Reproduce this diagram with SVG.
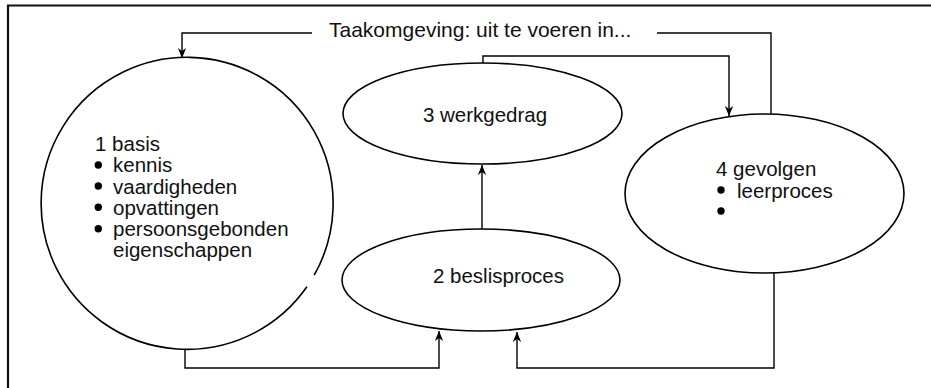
<svg xmlns="http://www.w3.org/2000/svg" width="931" height="388" viewBox="0 0 931 388">
<style>
.shape{fill:none;stroke:#000;stroke-width:1.6}
.conn{fill:none;stroke:#000;stroke-width:1.4}
.t{font-family:"Liberation Sans",Arial,sans-serif;font-size:20.5px;fill:#111}
.title{font-size:21px}
.dot{fill:#000}
</style>
<defs>
<marker id="arr" markerUnits="userSpaceOnUse" markerWidth="14" markerHeight="12" viewBox="-11 -6 12 12" refX="0" refY="0" orient="auto">
<path d="M0,0 L-10,-4.2 L-7,0 L-10,4.2 Z" fill="#000"/>
</marker>
</defs>
<rect x="0" y="0" width="931" height="388" fill="#fff"/>
<g id="frame">
<path d="M8,388 V5.5 H931" fill="none" stroke="#111" stroke-width="2.2"/>
</g>
<g id="connectors">
<path class="conn" d="M312,33 H182 V58" marker-end="url(#arr)"/>
<path class="conn" d="M657,33 H771 V114"/>
<path class="conn" d="M483,63 V56 H729 V116" marker-end="url(#arr)"/>
<path class="conn" d="M482,229 V165" marker-end="url(#arr)"/>
<path class="conn" d="M185,349 V368 H439 V331" marker-end="url(#arr)"/>
<path class="conn" d="M774,273 V368 H517 V332" marker-end="url(#arr)"/>
</g>
<g id="title">
<text class="t title" x="329" y="37">Taakomgeving: uit te voeren in...</text>
</g>
<g id="node1">
<path class="shape" d="M306.9,286.8 A146,146 0 1 1 314.2,275.2"/>
<text class="t" x="95" y="151">1 basis</text>
<circle class="dot" cx="98.3" cy="165" r="3.7"/>
<text class="t" x="113" y="172">kennis</text>
<circle class="dot" cx="98.3" cy="186" r="3.7"/>
<text class="t" x="113" y="193.5">vaardigheden</text>
<circle class="dot" cx="98.3" cy="207.3" r="3.7"/>
<text class="t" x="113" y="214.5">opvattingen</text>
<circle class="dot" cx="98.3" cy="228.7" r="3.7"/>
<text class="t" x="113" y="236">persoonsgebonden</text>
<text class="t" x="113" y="257">eigenschappen</text>
</g>
<g id="node2">
<ellipse class="shape" cx="481" cy="280" rx="139" ry="51"/>
<text class="t" x="498.5" y="283" text-anchor="middle">2 beslisproces</text>
</g>
<g id="node3">
<ellipse class="shape" cx="482.5" cy="113.5" rx="139.5" ry="50.5"/>
<text class="t" x="485" y="122" text-anchor="middle">3 werkgedrag</text>
</g>
<g id="node4">
<ellipse class="shape" cx="764.5" cy="193.5" rx="139.5" ry="79.5"/>
<text class="t" x="716" y="176">4 gevolgen</text>
<circle class="dot" cx="721" cy="190" r="3.7"/>
<text class="t" x="737" y="198">leerproces</text>
<circle class="dot" cx="721" cy="211" r="3.7"/>
</g>
</svg>
